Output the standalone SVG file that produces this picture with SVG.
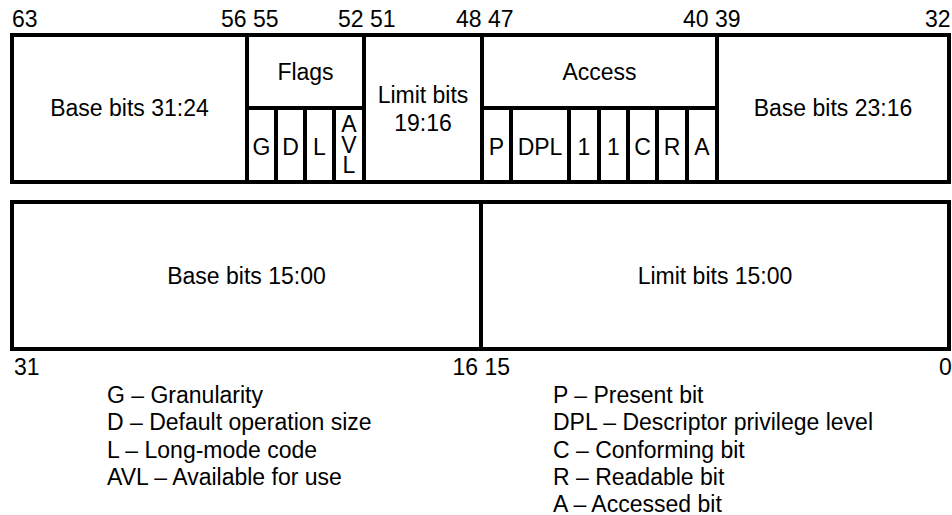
<svg xmlns="http://www.w3.org/2000/svg" width="952" height="515" viewBox="0 0 952 515">
<style>
  .box { fill: #ffffff; stroke: #000000; stroke-width: 4; }
  text { font-family: "Liberation Sans", Arial, Helvetica, sans-serif; font-size: 23px; fill: #000000; }
  .c { text-anchor: middle; }
  .e { text-anchor: end; }
</style>
<rect x="0" y="0" width="952" height="515" fill="#ffffff"/>

<g id="bit-numbers-top">
  <text x="12" y="27">63</text>
  <text x="221" y="27">56 55</text>
  <text x="338" y="27">52 51</text>
  <text x="456" y="27">48 47</text>
  <text x="683" y="27">40 39</text>
  <text x="925" y="27">32</text>
</g>

<g id="base-31-24">
  <rect class="box" x="12" y="35" width="235" height="147"/>
  <text class="c" x="129.5" y="116">Base bits 31:24</text>
</g>

<g id="flags">
  <rect class="box" x="247" y="35" width="117" height="73"/>
  <text class="c" x="305.5" y="80">Flags</text>
</g>
<g id="flag-g">
  <rect class="box" x="247" y="108" width="29" height="74"/>
  <text class="c" x="261.5" y="155">G</text>
</g>
<g id="flag-d">
  <rect class="box" x="276" y="108" width="29" height="74"/>
  <text class="c" x="290.5" y="155">D</text>
</g>
<g id="flag-l">
  <rect class="box" x="305" y="108" width="29" height="74"/>
  <text class="c" x="319.5" y="155">L</text>
</g>
<g id="flag-avl">
  <rect class="box" x="334" y="108" width="30" height="74"/>
  <text class="c" x="349" y="132">A</text>
  <text class="c" x="349" y="152.5">V</text>
  <text class="c" x="349" y="173">L</text>
</g>

<g id="limit-19-16">
  <rect class="box" x="364" y="35" width="118" height="147"/>
  <text class="c" x="423" y="103">Limit bits</text>
  <text class="c" x="423" y="131">19:16</text>
</g>

<g id="access">
  <rect class="box" x="482" y="35" width="235" height="73"/>
  <text class="c" x="599.5" y="80">Access</text>
</g>
<g id="access-p">
  <rect class="box" x="482" y="108" width="29" height="74"/>
  <text class="c" x="496.5" y="155">P</text>
</g>
<g id="access-dpl">
  <rect class="box" x="511" y="108" width="58" height="74"/>
  <text class="c" x="540" y="155">DPL</text>
</g>
<g id="access-1a">
  <rect class="box" x="569" y="108" width="30" height="74"/>
  <text class="c" x="584" y="155">1</text>
</g>
<g id="access-1b">
  <rect class="box" x="599" y="108" width="29" height="74"/>
  <text class="c" x="613.5" y="155">1</text>
</g>
<g id="access-c">
  <rect class="box" x="628" y="108" width="29" height="74"/>
  <text class="c" x="642.5" y="155">C</text>
</g>
<g id="access-r">
  <rect class="box" x="657" y="108" width="30" height="74"/>
  <text class="c" x="672" y="155">R</text>
</g>
<g id="access-a">
  <rect class="box" x="687" y="108" width="30" height="74"/>
  <text class="c" x="702" y="155">A</text>
</g>

<g id="base-23-16">
  <rect class="box" x="717" y="35" width="232" height="147"/>
  <text class="c" x="833" y="116">Base bits 23:16</text>
</g>

<g id="base-15-00">
  <rect class="box" x="12" y="202" width="469" height="147"/>
  <text class="c" x="246.5" y="284">Base bits 15:00</text>
</g>
<g id="limit-15-00">
  <rect class="box" x="481" y="202" width="468" height="147"/>
  <text class="c" x="715" y="284">Limit bits 15:00</text>
</g>

<g id="bit-numbers-bottom">
  <text x="14" y="375">31</text>
  <text x="452.5" y="375">16 15</text>
  <text x="939" y="375">0</text>
</g>

<g id="connectors"></g>

<g id="legend-flags">
  <text x="107" y="402.5">G – Granularity</text>
  <text x="107" y="430">D – Default operation size</text>
  <text x="107" y="457.5">L – Long-mode code</text>
  <text x="107" y="485">AVL – Available for use</text>
</g>
<g id="legend-access">
  <text x="553" y="402.5">P – Present bit</text>
  <text x="553" y="430">DPL – Descriptor privilege level</text>
  <text x="553" y="457.5">C – Conforming bit</text>
  <text x="553" y="485">R – Readable bit</text>
  <text x="553" y="512">A – Accessed bit</text>
</g>
</svg>
